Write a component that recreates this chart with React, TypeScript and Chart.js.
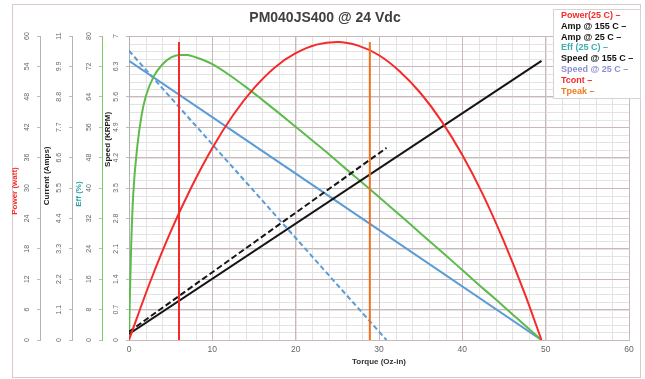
import React, { useEffect, useRef } from 'react';
import { Chart, registerables } from 'chart.js';

Chart.register(...registerables);

// ---------- data ----------
const TITLE = 'PM040JS400 @ 24 Vdc';
const X_TITLE = 'Torque (Oz-in)';

const X_TICKS = [0, 10, 20, 30, 40, 50, 60];
const POWER_TICKS = [0, 6, 12, 18, 24, 30, 36, 42, 48, 54, 60];
const CURRENT_TICKS = [0, 1.1, 2.2, 3.3, 4.4, 5.5, 6.6, 7.7, 8.8, 9.9, 11];
const EFF_TICKS = [0, 8, 16, 24, 32, 40, 48, 56, 64, 72, 80];
const SPEED_TICKS = [0, 0.7, 1.4, 2.1, 2.8, 3.5, 4.2, 4.9, 5.6, 6.3, 7];

const POWER_T = [0, 2.5, 5, 7.5, 10, 12.5, 15, 17.5, 20, 22.5, 25, 27.5, 30, 32.5, 35, 37.5, 40, 42.5, 45, 47.5, 49.5];
const POWER_W = [0, 11.3, 21.4, 30.2, 37.9, 44.4, 49.7, 53.8, 56.6, 58.3, 58.8, 58.1, 56.2, 53.0, 48.7, 43.2, 36.5, 28.6, 19.4, 9.1, 0];

const AMP155_T = [0, 30.9];
const AMP155_A = [0.3, 6.95];
const AMP25_T = [0, 49.5];
const AMP25_A = [0.22, 10.1];

const EFF_T = [0, 0.1, 0.25, 0.5, 1, 1.5, 2, 3, 4, 5, 6, 7, 8, 10, 12, 14, 16, 18, 20, 22, 24, 26, 28, 30, 32, 34, 36, 38, 40, 42, 44, 46, 48, 49.5];
const EFF_P = [0, 11, 24, 38, 51, 59, 64, 69.5, 72.5, 74.3, 75, 75, 74.4, 72.6, 69.8, 66.6, 63.2, 59.7, 56.1, 52.5, 48.9, 45.1, 41.4, 37.6, 33.8, 30, 26.1, 22.3, 18.4, 14.5, 10.7, 6.8, 2.9, 0];

const SPEED155_T = [0, 30.9];
const SPEED155_K = [6.66, 0];
const SPEED25_T = [0, 49.5];
const SPEED25_K = [6.43, 0];

const TCONT_T = [6.0, 6.0];
const TPEAK_T = [28.9, 28.9];
const TLINE_W = [0, 58.8];

const LEGEND_LABELS = ['Power(25 C) \u2013', 'Amp @ 155 C \u2013', 'Amp @ 25 C \u2013', 'Eff (25 C) \u2013', 'Speed @ 155 C \u2013', 'Speed @ 25 C \u2013', 'Tcont \u2013', 'Tpeak \u2013'];

// ---------- styles ----------
const FONT = '"Liberation Sans", Arial, sans-serif';
const RED = '#f52a2a';
const GREEN = '#5dbb4c';
const BLUE = '#5b9bd5';
const BLACK = '#151515';
const ORANGE = '#f07020';
const MAJOR = '#cbb9b9';
const MINOR = '#e3e3e3';
const LEGEND_COLORS = ['#f52a2a', '#111', '#111', '#3aaeb0', '#111', '#8c8fd0', '#f52a2a', '#f07a20'];

const zip = (xs: number[], ys: number[]) => xs.map((x, i) => ({ x, y: ys[i] }));
const fixedTicks = (vals: number[]) => (s: any) => { s.ticks = vals.map((v) => ({ value: v })); };

const AXIS_DEFS = [
  { id: 'power', ticks: POWER_TICKS, title: 'Power (watt)', titleColor: RED, titleDx: 3, titleFrac: 0.51 },
  { id: 'current', ticks: CURRENT_TICKS, title: 'Current (Amps)', titleColor: '#222', titleDx: 7, titleFrac: 0.46 },
  { id: 'eff', ticks: EFF_TICKS, title: 'Eff (%)', titleColor: '#2fa3aa', titleDx: 7, titleFrac: 0.52 },
  { id: 'speed', ticks: SPEED_TICKS, title: 'Speed (KRPM)', titleColor: '#222', titleDx: 6, titleFrac: 0.34 },
];

const drawPlugin = {
  id: 'customDraw',
  beforeDraw(chart: any) {
    const { ctx, chartArea } = chart;
    const { left, right, top, bottom } = chartArea;
    ctx.save();
    ctx.strokeStyle = '#d9c9c9';
    ctx.lineWidth = 1;
    ctx.strokeRect(12.5, 4.5, 628, 373);
    ctx.strokeStyle = MINOR;
    const xs = chart.scales.x;
    for (let v = 0; v <= 60; v += 2) {
      const px = Math.round(xs.getPixelForValue(v)) + 0.5;
      ctx.beginPath(); ctx.moveTo(px, top); ctx.lineTo(px, bottom); ctx.stroke();
    }
    const ys = chart.scales.speed;
    for (let i = 0; i <= 40; i++) {
      const py = Math.round(ys.getPixelForValue((i * 7) / 40)) + 0.5;
      ctx.beginPath(); ctx.moveTo(left, py); ctx.lineTo(right, py); ctx.stroke();
    }
    ctx.restore();
  },
  afterDraw(chart: any) {
    const { ctx, chartArea } = chart;
    const { left, right, top, bottom } = chartArea;
    ctx.save();
    AXIS_DEFS.forEach((d) => {
      const s = chart.scales[d.id];
      ctx.font = `7px ${FONT}`;
      ctx.fillStyle = '#666';
      ctx.textAlign = 'center';
      ctx.textBaseline = 'middle';
      d.ticks.forEach((v) => {
        const y = s.getPixelForValue(v);
        ctx.save();
        ctx.translate(s.right - 13, y);
        ctx.rotate(-Math.PI / 2);
        ctx.fillText(String(v), 0, 0);
        ctx.restore();
      });
      ctx.save();
      ctx.font = `bold 8px ${FONT}`;
      ctx.fillStyle = d.titleColor;
      ctx.translate(s.left + d.titleDx, top + (bottom - top) * d.titleFrac);
      ctx.rotate(-Math.PI / 2);
      ctx.fillText(d.title, 0, 0);
      ctx.restore();
    });
    ctx.font = `bold 8px ${FONT}`;
    ctx.fillStyle = '#333';
    ctx.textAlign = 'center';
    ctx.textBaseline = 'middle';
    ctx.fillText(X_TITLE, (left + right) / 2, 362);
    ctx.font = `bold 14px ${FONT}`;
    ctx.fillStyle = '#404040';
    ctx.fillText(TITLE, 325, 18);
    ctx.fillStyle = '#fff';
    ctx.fillRect(553, 9, 87, 89);
    ctx.strokeStyle = '#d4d4d4';
    ctx.strokeRect(553.5, 9.5, 87, 89);
    ctx.font = `bold 9px ${FONT}`;
    ctx.textAlign = 'left';
    LEGEND_LABELS.forEach((t, i) => {
      ctx.fillStyle = LEGEND_COLORS[i];
      ctx.fillText(t, 561, 15.5 + i * 10.8);
    });
    ctx.restore();
  },
};

const sideAxis = (weight: number, width: number, ticks: number[], min: number, max: number, borderColor: string) => ({
  type: 'linear',
  position: 'left',
  weight,
  min,
  max,
  afterBuildTicks: fixedTicks(ticks),
  afterFit: (s: any) => { s.width = width; },
  ticks: { display: false },
  grid: { drawOnChartArea: false, drawTicks: true, tickLength: 3, color: '#bdbdbd' },
  border: { display: true, color: borderColor, width: 1 },
});

export default function App() {
  const ref = useRef<HTMLCanvasElement>(null);
  useEffect(() => {
    const canvas = ref.current;
    if (!canvas) return;
    const line = (label: string, data: any[], color: string, axis: string, dash: number[] = [], width = 2) => ({
      label, data, borderColor: color, backgroundColor: color, yAxisID: axis, borderDash: dash,
      borderWidth: width, pointRadius: 0, fill: false, cubicInterpolationMode: 'monotone',
    });
    const chart = new Chart(canvas, {
      type: 'line',
      data: {
        datasets: [
          line('Tcont', zip(TCONT_T, TLINE_W), RED, 'power'),
          line('Tpeak', zip(TPEAK_T, TLINE_W), ORANGE, 'power'),
          line('Power(25 C)', zip(POWER_T, POWER_W), RED, 'power'),
          line('Amp @ 155 C', zip(AMP155_T, AMP155_A), BLACK, 'current', [6, 3]),
          line('Amp @ 25 C', zip(AMP25_T, AMP25_A), BLACK, 'current'),
          line('Eff (25 C)', zip(EFF_T, EFF_P), GREEN, 'eff'),
          line('Speed @ 155 C', zip(SPEED155_T, SPEED155_K), BLUE, 'speed', [5, 3]),
          line('Speed @ 25 C', zip(SPEED25_T, SPEED25_K), BLUE, 'speed'),
        ],
      },
      options: {
        animation: false,
        responsive: false,
        devicePixelRatio: 1,
        parsing: false as any,
        layout: { padding: { left: 12, top: 36, right: 16, bottom: 11 } },
        plugins: { legend: { display: false }, title: { display: false }, tooltip: { enabled: false } },
        scales: {
          x: {
            type: 'linear', min: 0, max: 60,
            afterBuildTicks: fixedTicks(X_TICKS),
            afterFit: (s: any) => { s.height = 28; },
            grid: { color: MAJOR, drawTicks: false },
            border: { display: true, color: MAJOR },
            ticks: { font: { family: FONT, size: 8.5 }, color: '#666', padding: 5 },
          },
          speed: {
            ...sideAxis(0, 27, SPEED_TICKS, 0, 7, '#b0b0b0'),
            grid: { drawOnChartArea: true, drawTicks: true, tickLength: 3, color: MAJOR, tickColor: '#bdbdbd' },
          },
          eff: sideAxis(1, 30, EFF_TICKS, 0, 80, '#7dc86a'),
          current: sideAxis(2, 32, CURRENT_TICKS, 0, 11, '#b4b4b4'),
          power: sideAxis(3, 28, POWER_TICKS, 0, 60, '#b4b4b4'),
        } as any,
      },
      plugins: [drawPlugin],
    } as any);
    return () => chart.destroy();
  }, []);
  return (
    <div style={{ position: 'fixed', left: 0, top: 0, width: 645, height: 379, background: '#fff' }}>
      <canvas ref={ref} width={645} height={379} style={{ display: 'block', width: 645, height: 379 }} />
    </div>
  );
}
